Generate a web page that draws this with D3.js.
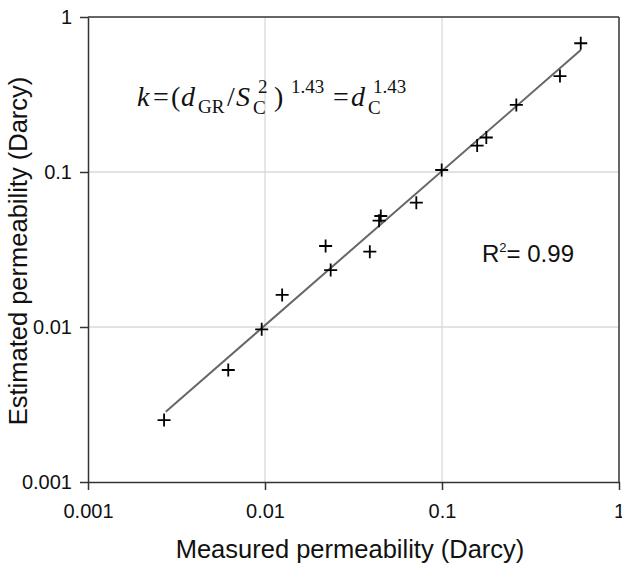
<!DOCTYPE html>
<html><head><meta charset="utf-8">
<script src="https://cdn.jsdelivr.net/npm/d3@7"></script>
<style>body{margin:0;background:#fff}svg{display:block}</style>
</head><body>
<script>
const measured = [0.00269, 0.0062, 0.00958, 0.0125, 0.0220, 0.0235, 0.0391, 0.0441, 0.0451, 0.0716, 0.0996, 0.158, 0.178, 0.263, 0.464, 0.608];
const estimated = [0.00251, 0.00528, 0.00966, 0.0161, 0.0333, 0.0233, 0.0306, 0.0485, 0.052, 0.0634, 0.103, 0.148, 0.167, 0.271, 0.416, 0.677];
const fitX = [0.00275, 0.608];
const fitY = [0.00284, 0.612];
const tickValues = [0.001, 0.01, 0.1, 1];
const tickLabels = ["0.001", "0.01", "0.1", "1"];
const xTitle = "Measured permeability (Darcy)";
const yTitle = "Estimated permeability (Darcy)";

const W = 622, H = 564;
const L = 88, R = 619, T = 17, B = 482;
const SANS = "Liberation Sans, Arial, sans-serif";
const SERIF = "Liberation Serif, Times New Roman, serif";
const svg = d3.select("body").append("svg").attr("width", W).attr("height", H);
const x = d3.scaleLog().domain([0.001, 1]).range([L, R]);
const y = d3.scaleLog().domain([0.001, 1]).range([B, T]);

// grid
svg.append("g").selectAll("line").data(tickValues.slice(1, 3)).join("line")
  .attr("x1", d => x(d)).attr("x2", d => x(d)).attr("y1", T).attr("y2", B)
  .attr("stroke", "#d9d9d9").attr("stroke-width", 1.3);
svg.append("g").selectAll("line").data(tickValues.slice(1, 3)).join("line")
  .attr("y1", d => y(d)).attr("y2", d => y(d)).attr("x1", L).attr("x2", R)
  .attr("stroke", "#d9d9d9").attr("stroke-width", 1.3);

// axes
const fmt = (d) => tickLabels[tickValues.indexOf(d)];
const xAxis = svg.append("g").attr("transform", `translate(0,${B})`)
  .call(d3.axisBottom(x).tickValues(tickValues).tickFormat(fmt).tickSizeInner(8).tickSizeOuter(0).tickPadding(14));
const yAxis = svg.append("g").attr("transform", `translate(${L},0)`)
  .call(d3.axisLeft(y).tickValues(tickValues).tickFormat(fmt).tickSizeInner(8).tickSizeOuter(0).tickPadding(8));
[xAxis, yAxis].forEach(g => {
  g.select(".domain").attr("stroke", "#333").attr("stroke-width", 1.5);
  g.selectAll(".tick line").attr("stroke", "#333").attr("stroke-width", 1.5);
  g.selectAll(".tick text").attr("font-family", SANS).attr("font-size", 20).attr("fill", "#111");
});
// top & right frame
svg.append("line").attr("x1", L).attr("x2", R).attr("y1", T).attr("y2", T).attr("stroke", "#333").attr("stroke-width", 1.5);
svg.append("line").attr("x1", R).attr("x2", R).attr("y1", T).attr("y2", B).attr("stroke", "#333").attr("stroke-width", 1.5);

// fit line
svg.append("line")
  .attr("x1", x(fitX[0])).attr("y1", y(fitY[0]))
  .attr("x2", x(fitX[1])).attr("y2", y(fitY[1]))
  .attr("stroke", "#666").attr("stroke-width", 2);

// markers
const pts = measured.map((m, i) => [m, estimated[i]]);
const s = 6.5;
svg.append("g").selectAll("path").data(pts).join("path")
  .attr("d", d => `M${x(d[0]) - s},${y(d[1])}H${x(d[0]) + s}M${x(d[0])},${y(d[1]) - s}V${y(d[1]) + s}`)
  .attr("stroke", "#000").attr("stroke-width", 1.8).attr("fill", "none");

// titles
svg.append("text").attr("x", 350).attr("y", 558).attr("text-anchor", "middle")
  .attr("font-family", SANS).attr("font-size", 25.5).attr("fill", "#111").text(xTitle);
svg.append("text").attr("transform", "translate(27,251) rotate(-90)").attr("text-anchor", "middle")
  .attr("font-family", SANS).attr("font-size", 25.5).attr("fill", "#111").text(yTitle);

// formula (equation-editor style pieces)
const base = 106;
const formula = [
  {t: "k", x: 137, dy: 0, it: true, sz: 28},
  {t: "=", x: 153, dy: 0, it: false, sz: 28},
  {t: "(", x: 171, dy: 0, it: false, sz: 28},
  {t: "d", x: 181, dy: 0, it: true, sz: 28},
  {t: "GR", x: 198, dy: 7, it: false, sz: 19},
  {t: "/", x: 227, dy: 0, it: false, sz: 28},
  {t: "S", x: 236, dy: 0, it: true, sz: 28},
  {t: "C", x: 253, dy: 8, it: false, sz: 19},
  {t: "2", x: 258, dy: -13, it: false, sz: 19},
  {t: ")", x: 274, dy: 0, it: false, sz: 28},
  {t: "1.43", x: 291, dy: -13, it: false, sz: 19},
  {t: "=", x: 333, dy: 0, it: false, sz: 28},
  {t: "d", x: 351, dy: 0, it: true, sz: 28},
  {t: "C", x: 368, dy: 8, it: false, sz: 19},
  {t: "1.43", x: 373, dy: -13, it: false, sz: 19}
];
svg.append("g").selectAll("text").data(formula).join("text")
  .attr("x", d => d.x).attr("y", d => base + d.dy)
  .attr("font-family", SERIF).attr("font-size", d => d.sz)
  .attr("font-style", d => d.it ? "italic" : "normal")
  .attr("fill", "#111").text(d => d.t);

// R^2
const r = svg.append("text").attr("x", 482).attr("y", 262)
  .attr("font-family", SANS).attr("font-size", 24).attr("fill", "#111");
r.append("tspan").text("R");
r.append("tspan").attr("font-size", 13).attr("dy", -10).text("2");
r.append("tspan").attr("dy", 10).text("= 0.99");
</script>
</body></html>
